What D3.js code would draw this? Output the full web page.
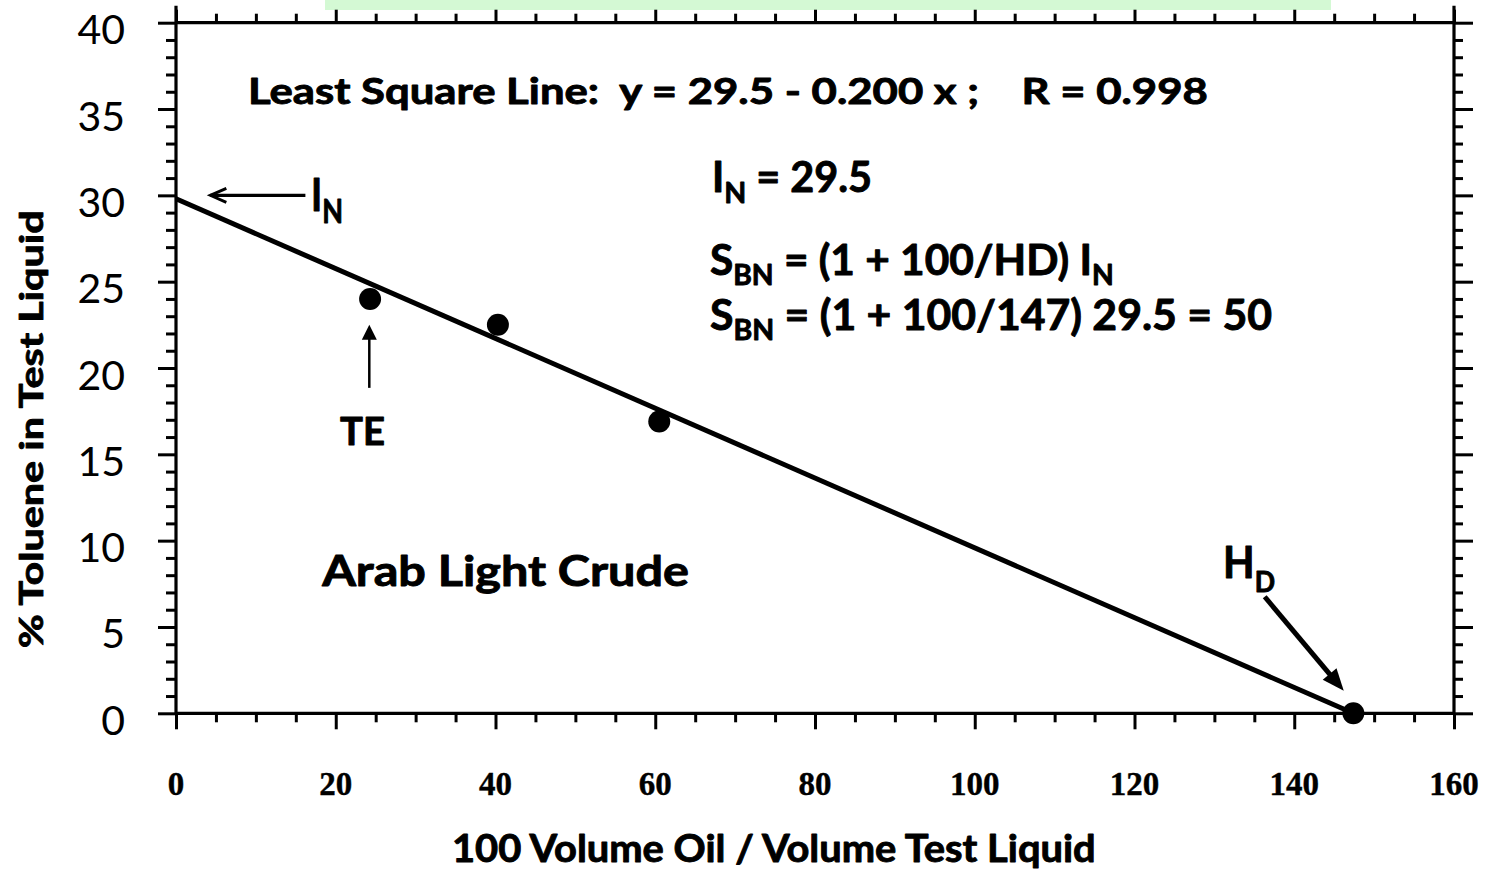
<!DOCTYPE html>
<html><head><meta charset="utf-8">
<script src="https://cdn.jsdelivr.net/npm/d3@7"></script>
<style>html,body{margin:0;padding:0;background:#fff;} svg{display:block;} text{white-space:pre;}</style>
</head><body>
<svg id="c" width="1486" height="871"></svg>
<script>
// ---- data ----
const xMajorTicks = [0, 20, 40, 60, 80, 100, 120, 140, 160];
const yMajorTicks = [0, 5, 10, 15, 20, 25, 30, 35, 40];
const xMinorTicks = [5, 10, 15, 25, 30, 35, 45, 50, 55, 65, 70, 75, 85, 90, 95, 105, 110, 115, 125, 130, 135, 145, 150, 155];
const yMinorTicks = [1, 2, 3, 4, 6, 7, 8, 9, 11, 12, 13, 14, 16, 17, 18, 19, 21, 22, 23, 24, 26, 27, 28, 29, 31, 32, 33, 34, 36, 37, 38, 39];
const sampleX = [24.3, 40.3, 60.5, 147.4];
const sampleY = [24.0, 22.5, 16.9, 0];
const fitX = [0, 147.4];
const fitY = [29.8, 0];
const xTitle = "100 Volume Oil / Volume Test Liquid";
const yTitle = "% Toluene in Test Liquid";

const svg = d3.select("#c");
const x = d3.scaleLinear().domain([0, 160]).range([176, 1454]);
const y = d3.scaleLinear().domain([0, 40]).range([713.3, 22.7]);
const SANS = "Lato, 'Open Sans', sans-serif";

// green band at the top
svg.append("rect").attr("x", 325).attr("y", 0).attr("width", 1006).attr("height", 10).attr("fill", "#d4f9d4");

// ---- axes ----
function styleAxis(g) {
  g.select(".domain").remove();
  g.selectAll("line").attr("stroke", "#000").attr("stroke-width", 3);
  g.selectAll("text").remove();
}
const X0 = x(0), X1 = x(160), Y0 = y(0), Y1 = y(40);
svg.append("g").attr("transform", `translate(0,${Y0})`).call(d3.axisBottom(x).tickValues(xMajorTicks).tickSize(16)).call(styleAxis);
svg.append("g").attr("transform", `translate(0,${Y0})`).call(d3.axisBottom(x).tickValues(xMinorTicks).tickSize(9)).call(styleAxis);
svg.append("g").attr("transform", `translate(0,${Y1})`).call(d3.axisTop(x).tickValues(xMajorTicks).tickSize(13)).call(styleAxis);
svg.append("g").attr("transform", `translate(0,${Y1})`).call(d3.axisTop(x).tickValues(xMinorTicks).tickSize(9)).call(styleAxis);
svg.append("g").attr("transform", `translate(${X0},0)`).call(d3.axisLeft(y).tickValues(yMajorTicks).tickSize(18)).call(styleAxis);
svg.append("g").attr("transform", `translate(${X0},0)`).call(d3.axisLeft(y).tickValues(yMinorTicks).tickSize(10)).call(styleAxis);
svg.append("g").attr("transform", `translate(${X1},0)`).call(d3.axisRight(y).tickValues(yMajorTicks).tickSize(19)).call(styleAxis);
svg.append("g").attr("transform", `translate(${X1},0)`).call(d3.axisRight(y).tickValues(yMinorTicks).tickSize(9)).call(styleAxis);

// frame
const frame = svg.append("g").attr("stroke", "#000").attr("stroke-width", 3.2).attr("fill", "none");
frame.append("line").attr("x1", X0).attr("x2", X1).attr("y1", Y0).attr("y2", Y0);
frame.append("line").attr("x1", X0).attr("x2", X1).attr("y1", Y1).attr("y2", Y1);
frame.append("line").attr("x1", X0).attr("x2", X0).attr("y1", Y1 - 17).attr("y2", Y0);
frame.append("line").attr("x1", X1).attr("x2", X1).attr("y1", Y1 - 17).attr("y2", Y0);

// tick labels
svg.append("g").selectAll("text").data(xMajorTicks).join("text")
  .attr("x", d => x(d)).attr("y", 795)
  .attr("text-anchor", "middle")
  .attr("font-family", "'Liberation Serif', 'Times New Roman', serif")
  .attr("font-weight", "bold").attr("font-size", 33)
  .attr("stroke", "#000").attr("stroke-width", 0.4)
  .text(d => d);
svg.append("g").selectAll("text").data(yMajorTicks).join("text")
  .attr("x", 125).attr("y", d => y(d) + 21.5)
  .attr("text-anchor", "end")
  .attr("font-family", SANS)
  .attr("font-size", 41)
  .text(d => d);

// ---- fit line and points ----
const lineGen = d3.line().x(d => x(d[0])).y(d => y(d[1]));
svg.append("path").datum(fitX.map((v, i) => [v, fitY[i]]))
  .attr("d", lineGen).attr("stroke", "#000").attr("stroke-width", 5).attr("fill", "none");
svg.append("g").selectAll("circle").data(sampleX.map((v, i) => [v, sampleY[i]])).join("circle")
  .attr("cx", d => x(d[0])).attr("cy", d => y(d[1])).attr("r", 11).attr("fill", "#000");

// ---- texts ----
function addText(parent, sx, baseY, size, subSize, subShift, parts, targetW) {
  const t = parent.append("text").attr("x", sx).attr("y", baseY)
    .attr("font-family", SANS).attr("font-weight", "bold")
    .attr("font-size", size).attr("fill", "#000")
    .attr("stroke", "#000").attr("stroke-width", 0.9).attr("stroke-linejoin", "round");
  let shifted = 0;
  parts.forEach(p => {
    const ts = t.append("tspan").text(p.t);
    if (p.sub) { ts.attr("font-size", subSize).attr("dy", subShift - shifted); shifted = subShift; }
    else { ts.attr("dy", -shifted); shifted = 0; }
  });
  if (targetW) {
    const bb = t.node().getBBox();
    const k = targetW / bb.width;
    t.attr("transform", `translate(${sx},0) scale(${k},1) translate(${-bb.x},0)`);
  }
  return t;
}
const ann = svg.append("g");
addText(ann, 248, 104, 37, 24, 8, [{t: "Least Square Line:  y = 29.5 - 0.200 x ;    R = 0.998"}], 960);
addText(ann, 712, 192, 42, 29, 11, [{t: "I"}, {t: "N", sub: true}, {t: " = 29.5"}], 160);
addText(ann, 710, 275, 42, 28, 10, [{t: "S"}, {t: "BN", sub: true}, {t: " = (1 + 100/HD) I"}, {t: "N", sub: true}], 404);
addText(ann, 710, 330, 42, 28, 10, [{t: "S"}, {t: "BN", sub: true}, {t: " = (1 + 100/147) 29.5 = 50"}], 562);
addText(ann, 321, 586, 42, 29, 11, [{t: "Arab Light Crude"}], 368);
addText(ann, 340, 445, 39, 26, 10, [{t: "TE"}], 45);
addText(ann, 1223, 578, 43, 28, 14, [{t: "H"}, {t: "D", sub: true}], 52);
addText(ann, 311, 211, 45, 32, 12, [{t: "I"}, {t: "N", sub: true}], 32);
addText(ann, 452, 862, 38, 26, 8, [{t: xTitle}], 644);

// y title
const yg = svg.append("g").attr("transform", "translate(43,429) rotate(-90)");
const yt = yg.append("text").attr("x", 0).attr("y", 0)
  .attr("font-family", SANS).attr("font-weight", "bold")
  .attr("stroke", "#000").attr("stroke-width", 0.8).attr("stroke-linejoin", "round")
  .attr("font-size", 32).text(yTitle);
{
  const bb = yt.node().getBBox();
  const L = 438, k = L / bb.width;
  yt.attr("transform", `translate(${-L / 2},0) scale(${k},1) translate(${-bb.x},0)`);
}

// ---- arrows ----
function arrow(x1, y1, x2, y2, w, headLen, headHalf, open) {
  const g = svg.append("g");
  const dx = x2 - x1, dy = y2 - y1, len = Math.hypot(dx, dy);
  const ux = dx / len, uy = dy / len, px = -uy, py = ux;
  const bx = x2 - ux * headLen, by = y2 - uy * headLen;
  if (open) {
    g.append("line").attr("x1", x1).attr("y1", y1).attr("x2", x2).attr("y2", y2)
      .attr("stroke", "#000").attr("stroke-width", w);
    g.append("polyline").attr("points", `${bx + px * headHalf},${by + py * headHalf} ${x2},${y2} ${bx - px * headHalf},${by - py * headHalf}`)
      .attr("stroke", "#000").attr("stroke-width", w * 0.9).attr("fill", "none");
  } else {
    g.append("line").attr("x1", x1).attr("y1", y1).attr("x2", bx + ux * 2).attr("y2", by + uy * 2)
      .attr("stroke", "#000").attr("stroke-width", w);
    g.append("polygon").attr("points", `${bx + px * headHalf},${by + py * headHalf} ${x2},${y2} ${bx - px * headHalf},${by - py * headHalf}`)
      .attr("fill", "#000");
  }
}
// I_N arrow (pointing to the intercept)
arrow(x(16.2), y(30), x(4.3), y(30), 3.2, 16, 7, true);
// TE arrow
arrow(x(24.2), y(18.85), x(24.2), y(22.5), 2.5, 15, 7.5, false);
// H_D arrow
arrow(x(136.3), y(6.75), x(146.2), y(1.3), 5, 22, 9, false);
</script>
</body></html>
